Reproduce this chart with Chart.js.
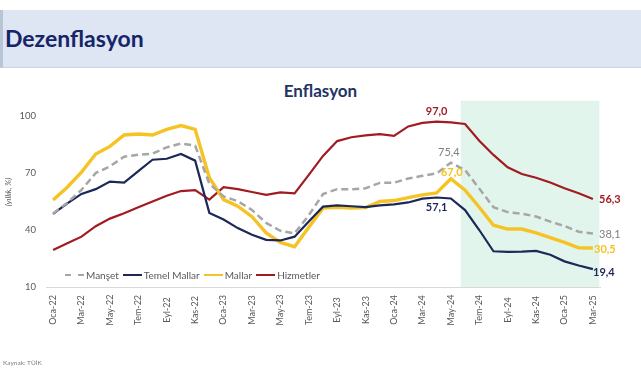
<!DOCTYPE html>
<html lang="tr">
<head>
<meta charset="utf-8">
<title>Dezenflasyon</title>
<script src="https://cdn.jsdelivr.net/npm/chart.js@4/dist/chart.umd.min.js"></script>
<style>
    html, body { margin: 0; padding: 0; background: #fff; }
    body { position: relative; width: 641px; height: 380px; overflow: hidden; font-family: Lato, 'Open Sans', sans-serif; }
    .banner { position: absolute; left: 0; top: 10px; width: 641px; height: 58px; box-sizing: border-box;
              background: #dde6f2; border-left: 3px solid #b8c5d7; border-bottom: 1px solid #cad4e2; }
    .banner h1 { position: absolute; left: 2px; top: 14px; margin: 0; font-size: 23px; line-height: 28px; font-weight: 700; color: #16246a; }
    .chart-title { position: absolute; left: 0; top: 80px; width: 641px; text-align: center; font-size: 17px; font-weight: 700; color: #1f3464; }
    .legend { position: absolute; left: 65px; top: 269px; display: flex; align-items: center; font-size: 10px; color: #595959; }
    .legend-item { display: flex; align-items: center; margin-right: 4px; }
    .legend-line { width: 19px; height: 0; margin-right: 2px; border-top-width: 2.5px; border-top-style: solid; }
    .source { position: absolute; left: 3px; top: 359px; font-size: 6.5px; color: #808080; }
    canvas { position: absolute; left: 0; top: 0; }
</style>
</head>
<body>
<div class="banner"><h1>Dezenflasyon</h1></div>
<div class="chart-title">Enflasyon</div>
<canvas id="inflationChart" width="641" height="380"></canvas>
<div class="legend"></div>
<div class="source">Kaynak: TÜİK</div>

<script>
// Months (Oca-22 ... Mar-25)
const months = [
    'Oca-22', 'Şub-22', 'Mar-22', 'Nis-22', 'May-22', 'Haz-22', 'Tem-22', 'Ağu-22', 'Eyl-22', 'Eki-22', 'Kas-22', 'Ara-22',
    'Oca-23', 'Şub-23', 'Mar-23', 'Nis-23', 'May-23', 'Haz-23', 'Tem-23', 'Ağu-23', 'Eyl-23', 'Eki-23', 'Kas-23', 'Ara-23',
    'Oca-24', 'Şub-24', 'Mar-24', 'Nis-24', 'May-24', 'Haz-24', 'Tem-24', 'Ağu-24', 'Eyl-24', 'Eki-24', 'Kas-24', 'Ara-24',
    'Oca-25', 'Şub-25', 'Mar-25'
];

// Annual inflation, %
const manset = [
    48.7, 54.4, 61.1, 70.0, 73.5, 78.6, 79.6, 80.2, 83.5, 85.5, 84.4, 64.3,
    57.7, 55.2, 50.5, 43.7, 39.6, 38.2, 47.8, 58.9, 61.5, 61.4, 62.0, 64.8,
    64.9, 67.1, 68.5, 69.8, 75.4, 71.6, 61.8, 52.0, 49.4, 48.6, 47.1, 44.4,
    42.1, 39.1, 38.1
];
const temelMallar = [
    48.5, 54.0, 59.0, 61.5, 65.5, 65.0, 71.0, 77.0, 77.5, 80.0, 76.5, 49.0,
    45.5, 41.0, 37.5, 34.8, 34.5, 36.5, 44.5, 52.3, 53.0, 52.5, 52.0, 53.0,
    53.5, 54.5, 56.5, 57.1, 56.6, 50.5, 40.0, 28.8, 28.5, 28.6, 29.0, 27.0,
    23.5, 21.3, 19.4
];
const mallar = [
    55.8, 62.5, 70.5, 80.0, 84.0, 90.0, 90.5, 90.0, 93.0, 95.0, 93.0, 67.5,
    56.0, 52.5, 47.0, 38.5, 33.5, 31.2, 41.5, 51.5, 52.0, 51.5, 51.8, 55.0,
    55.5, 57.0, 58.5, 59.5, 67.0, 61.0, 52.0, 42.5, 40.5, 40.5, 38.5, 36.0,
    33.5, 30.6, 30.5
];
const hizmetler = [
    29.5, 33.0, 36.5, 42.0, 46.0, 48.8, 52.0, 55.0, 58.0, 60.5, 61.0, 56.0,
    62.5, 61.5, 60.0, 58.5, 59.8, 59.3, 69.0, 79.0, 86.8, 88.8, 89.8, 90.5,
    89.5, 94.5, 96.4, 97.0, 96.6, 95.8, 87.0, 79.5, 73.0, 69.5, 67.5, 65.0,
    62.0, 59.3, 56.3
];

const yTicks = [10, 40, 70, 100];

// Shaded forecast-like window (category index range) and its top value
const shadeFrom = 28.7;
const shadeTo = 38.45;
const shadeTop = 108;

const series = [
    { name: 'Manşet', data: manset, color: '#a6a6a6', width: 2.5, dash: [7, 4] },
    { name: 'Temel Mallar', data: temelMallar, color: '#1c2857', width: 2.2, dash: [] },
    { name: 'Mallar', data: mallar, color: '#f5c324', width: 3.4, dash: [] },
    { name: 'Hizmetler', data: hizmetler, color: '#a11c22', width: 2.2, dash: [] }
];

// Value labels: which series / point, offset in px, style
const valueLabels = [
    { s: 3, i: 27, dx: 0, dy: -10, color: '#a11c22', bold: true },
    { s: 0, i: 28, dx: -2, dy: -10, color: '#7f7f7f', bold: false },
    { s: 2, i: 28, dx: 1, dy: -6, color: '#f5c324', bold: true },
    { s: 1, i: 27, dx: 0, dy: 10, color: '#1c2857', bold: true },
    { s: 3, i: 38, dx: 17, dy: 0, color: '#a11c22', bold: true },
    { s: 0, i: 38, dx: 17, dy: 1, color: '#7f7f7f', bold: false },
    { s: 2, i: 38, dx: 12, dy: 1, color: '#f5c324', bold: true },
    { s: 1, i: 38, dx: 11, dy: 3, color: '#1c2857', bold: true }
];

const fmt = v => v.toFixed(1).replace('.', ',');

// Light green band behind the lines
const shadePlugin = {
    id: 'shade',
    beforeDatasetsDraw(chart) {
        const { ctx, scales: { x, y }, chartArea } = chart;
        const step = x.getPixelForValue(1) - x.getPixelForValue(0);
        const x0 = x.getPixelForValue(0) + shadeFrom * step;
        const x1 = Math.min(x.getPixelForValue(0) + shadeTo * step, chartArea.right);
        const y0 = y.getPixelForValue(shadeTop);
        const y1 = y.getPixelForValue(10);
        ctx.save();
        ctx.fillStyle = '#e2f5ec';
        ctx.fillRect(x0, y0, x1 - x0, y1 - y0);
        ctx.restore();
    }
};

// Rotated month labels, every second month, centred under the axis
const monthLabelPlugin = {
    id: 'monthLabels',
    afterDraw(chart) {
        const { ctx, scales: { x } } = chart;
        ctx.save();
        ctx.fillStyle = '#595959';
        ctx.font = '9px Lato, sans-serif';
        ctx.textAlign = 'center';
        ctx.textBaseline = 'middle';
        months.forEach((m, i) => {
            if (i % 2 !== 0) return;
            ctx.save();
            ctx.translate(x.getPixelForValue(i), 310);
            ctx.rotate(-Math.PI / 2);
            ctx.fillText(m, 0, 0);
            ctx.restore();
        });
        ctx.restore();
    }
};

const valueLabelPlugin = {
    id: 'valueLabels',
    afterDatasetsDraw(chart) {
        const { ctx } = chart;
        ctx.save();
        ctx.textAlign = 'center';
        ctx.textBaseline = 'middle';
        valueLabels.forEach(l => {
            const pt = chart.getDatasetMeta(l.s).data[l.i];
            ctx.font = (l.bold ? 'bold ' : '') + '11px Lato, sans-serif';
            ctx.fillStyle = l.color;
            ctx.fillText(fmt(series[l.s].data[l.i]), pt.x + l.dx, pt.y + l.dy);
        });
        ctx.restore();
    }
};

function buildLegend() {
    const legend = document.querySelector('.legend');
    legend.innerHTML = series.map(s => `
        <div class="legend-item">
            <span class="legend-line" style="border-top-color:${s.color};border-top-style:${s.dash.length ? 'dashed' : 'solid'}"></span>
            <span>${s.name}</span>
        </div>
    `).join('');
}

function initializeChart() {
    const ctx = document.getElementById('inflationChart').getContext('2d');
    new Chart(ctx, {
        type: 'line',
        data: {
            labels: months,
            datasets: series.map(s => ({
                label: s.name,
                data: s.data,
                borderColor: s.color,
                borderWidth: s.width,
                borderDash: s.dash,
                pointRadius: 0,
                tension: 0,
                fill: false
            }))
        },
        options: {
            responsive: false,
            animation: false,
            devicePixelRatio: 1,
            layout: { padding: { left: 0, right: 41, top: 97, bottom: 0 } },
            plugins: {
                legend: { display: false },
                tooltip: { enabled: false }
            },
            scales: {
                x: {
                    offset: true,
                    grid: { display: false, drawTicks: false },
                    border: { display: true, color: '#d9d9d9', width: 1 },
                    ticks: { display: false },
                    afterFit: scale => { scale.height = 93; }
                },
                y: {
                    min: 10,
                    max: 110,
                    grid: { display: false, drawTicks: false },
                    border: { display: false },
                    afterBuildTicks: scale => { scale.ticks = yTicks.map(v => ({ value: v })); },
                    ticks: { padding: 10, color: '#595959', font: { family: 'Lato', size: 9.5 } },
                    title: {
                        display: true,
                        text: '(yıllık, %)',
                        color: '#595959',
                        font: { family: 'Lato', size: 8, style: 'italic' },
                        padding: { top: 4, bottom: 0 }
                    },
                    afterFit: scale => { scale.width = 46; }
                }
            }
        },
        plugins: [shadePlugin, valueLabelPlugin, monthLabelPlugin]
    });
}

document.addEventListener('DOMContentLoaded', () => {
    buildLegend();
    initializeChart();
});
</script>
</body>
</html>
